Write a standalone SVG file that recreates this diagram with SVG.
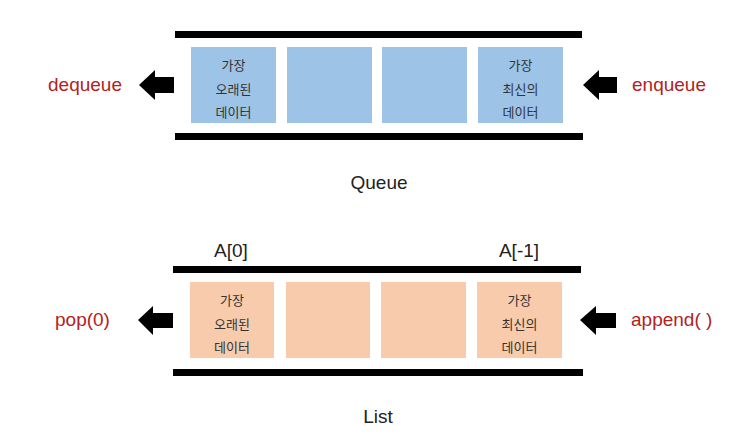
<svg xmlns="http://www.w3.org/2000/svg" width="736" height="444" viewBox="0 0 736 444">
<style>
.bar{fill:#000}
.q{fill:#9dc3e6}
.l{fill:#f8cbad}
.k{font-family:"Noto Sans CJK KR","Noto Sans",sans-serif;font-size:13px;fill:#333;text-anchor:middle}
.op{font-family:"Liberation Sans",Arial,sans-serif;font-size:19px;fill:#b22222}
.lab{font-family:"Liberation Sans",Arial,sans-serif;font-size:19px;fill:#222}
.arr{fill:#000}
</style>
<rect width="736" height="444" fill="#fff"/>
<g id="queue">
  <rect class="bar" x="175" y="31" width="407" height="7"/>
  <rect class="bar" x="175" y="133" width="408" height="7"/>
  <g id="q1">
    <rect class="q" x="191" y="47" width="85" height="76"/>
    <text class="k" x="233.5" y="70">가장</text>
    <text class="k" x="233.5" y="94">오래된</text>
    <text class="k" x="233.5" y="117">데이터</text>
  </g>
  <g id="q2"><rect class="q" x="287" y="47" width="85" height="76"/></g>
  <g id="q3"><rect class="q" x="382" y="47" width="85" height="76"/></g>
  <g id="q4">
    <rect class="q" x="478" y="47" width="85" height="76"/>
    <text class="k" x="520.5" y="70">가장</text>
    <text class="k" x="520.5" y="94">최신의</text>
    <text class="k" x="520.5" y="117">데이터</text>
  </g>
  <text class="lab" x="379" y="189" text-anchor="middle">Queue</text>
</g>
<g id="list">
  <text class="lab" x="231" y="257" text-anchor="middle">A[0]</text>
  <text class="lab" x="519" y="257" text-anchor="middle">A[-1]</text>
  <rect class="bar" x="173" y="266" width="408" height="7"/>
  <rect class="bar" x="173" y="369" width="410" height="7"/>
  <g id="l1">
    <rect class="l" x="190" y="282" width="84" height="76"/>
    <text class="k" x="232" y="305">가장</text>
    <text class="k" x="232" y="329">오래된</text>
    <text class="k" x="232" y="352">데이터</text>
  </g>
  <g id="l2"><rect class="l" x="286" y="282" width="84" height="76"/></g>
  <g id="l3"><rect class="l" x="381" y="282" width="85" height="76"/></g>
  <g id="l4">
    <rect class="l" x="477" y="282" width="85" height="76"/>
    <text class="k" x="519.5" y="305">가장</text>
    <text class="k" x="519.5" y="329">최신의</text>
    <text class="k" x="519.5" y="352">데이터</text>
  </g>
  <text class="lab" x="378" y="423" text-anchor="middle">List</text>
</g>
<g id="connectors">
  <polygon class="arr" points="139,85 155,70 155,77 174,77 174,93 155,93 155,100"/>
  <polygon class="arr" points="583,85 599,70 599,77 617,77 617,93 599,93 599,100"/>
  <polygon class="arr" points="138,320 153,306 153,313 173,313 173,328 153,328 153,335"/>
  <polygon class="arr" points="580,320 596,306 596,313 616,313 616,328 596,328 596,335"/>
</g>
<g id="ops">
  <text class="op" x="48" y="91">dequeue</text>
  <text class="op" x="632" y="91">enqueue</text>
  <text class="op" x="55" y="326">pop(0)</text>
  <text class="op" x="631" y="326">append( )</text>
</g>
</svg>
